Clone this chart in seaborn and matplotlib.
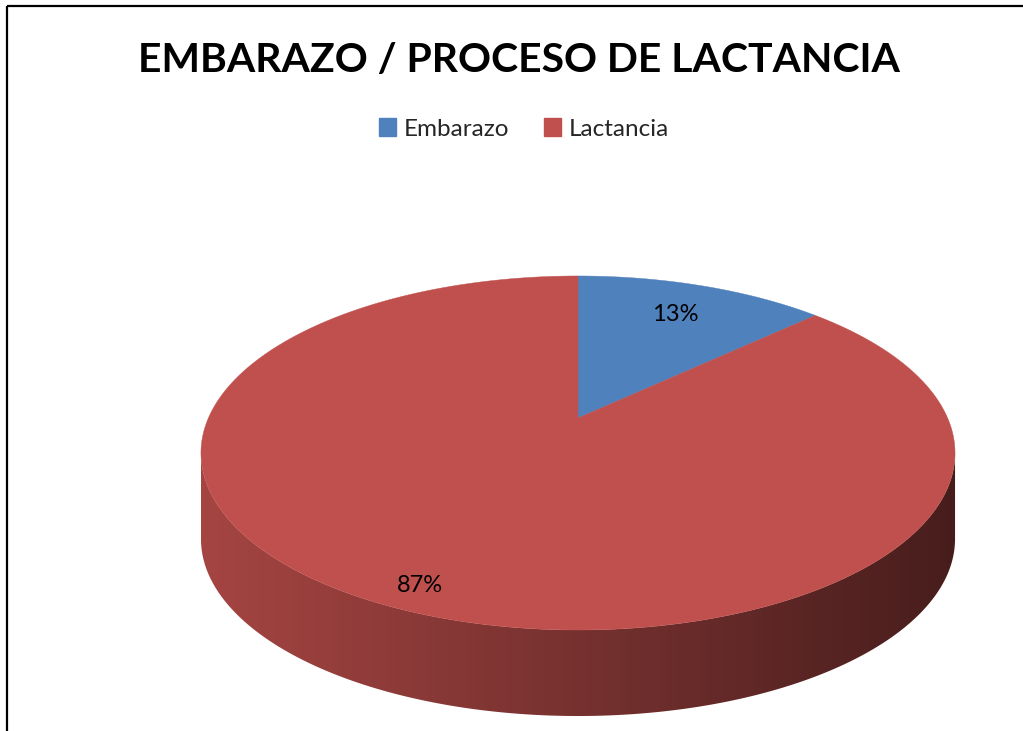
import numpy as np
import matplotlib
matplotlib.use("Agg")
import matplotlib.pyplot as plt
import seaborn as sns
from matplotlib.patches import Polygon, Patch, Rectangle
from matplotlib.colors import to_rgb

# data
labels = ["Embarazo", "Lactancia"]
values = [13, 87]
colors = ["#4F81BD", "#C0504D"]
title = "EMBARAZO / PROCESO DE LACTANCIA"

sns.set_theme(style="white")
plt.rcParams['font.family'] = ['Lato', 'DejaVu Sans']

W, H = 1023, 731
fig = plt.figure(figsize=(W / 100, H / 100), dpi=100)
ax = fig.add_axes([0, 0, 1, 1])

# pie geometry in pixels (perspective tilt)
CX, CY = 578, 418
A, B, K = 369.6, 170.1, 0.1977
DEPTH = 86
label_r = [0.75, 0.9]


def proj(r, phi):
    # phi in degrees, clockwise from 12 o'clock
    X = r * np.sin(np.radians(phi))
    Y = r * np.cos(np.radians(phi))
    d = 1 + K * Y
    return CX + A * X / d, CY - B * Y / d


total = sum(values)
angles = np.concatenate([[0], np.cumsum(values) / total * 360])

# visible side band (front half between the silhouette points)
lo = np.degrees(np.arccos(-K))
hi = 360 - lo
xl, _ = proj(1, hi)
xr, _ = proj(1, lo)

for i, c in enumerate(colors):
    s, e = max(angles[i], lo), min(angles[i + 1], hi)
    if e <= s:
        continue
    phi = np.linspace(s, e, 200)
    tx, ty = proj(1, phi)
    px = np.concatenate([tx, tx[::-1]])
    py = np.concatenate([ty, (ty + DEPTH)[::-1]])
    poly = Polygon(np.column_stack([px, py]), closed=True, fc="none", ec="none")
    ax.add_patch(poly)
    base = np.array(to_rgb(c))
    fac = np.linspace(0.86, 0.37, 300)
    grad = (base[None, :] * fac[:, None])[None, :, :]
    im = ax.imshow(grad, extent=(xl, xr, py.max() + 2, py.min() - 2),
                   aspect="auto", interpolation="bilinear")
    im.set_clip_path(poly)

# top face
for i, c in enumerate(colors):
    phi = np.linspace(angles[i], angles[i + 1], 300)
    tx, ty = proj(1, phi)
    pts = np.column_stack([np.r_[CX, tx], np.r_[CY, ty]])
    ax.add_patch(Polygon(pts, closed=True, fc=c, ec=c, lw=0.3))

# percent labels
for i, v in enumerate(values):
    mid = (angles[i] + angles[i + 1]) / 2
    lx, ly = proj(label_r[i], mid)
    ax.text(lx, ly, f"{v / total * 100:.0f}%", ha="center", va="center",
            fontsize=17, color="black")

# frame
ax.add_patch(Rectangle((7, 6), W, H, fill=False, ec="black", lw=1.6))

ax.text(519, 60, title, ha="center", va="center", fontsize=29.4,
        fontweight="bold", color="black")

handles = [Patch(fc=c, ec=c, label=l) for c, l in zip(colors, labels)]
ax.legend(handles=handles, loc="center", bbox_to_anchor=(524 / W, 1 - 129 / H),
          ncol=2, frameon=False, fontsize=17.5, handlelength=0.7, handleheight=0.7,
          handletextpad=0.35, columnspacing=1.4, borderaxespad=0)

ax.set_xlim(0, W)
ax.set_ylim(H, 0)
ax.axis("off")
fig.savefig("out.png", dpi=100, facecolor="white")
